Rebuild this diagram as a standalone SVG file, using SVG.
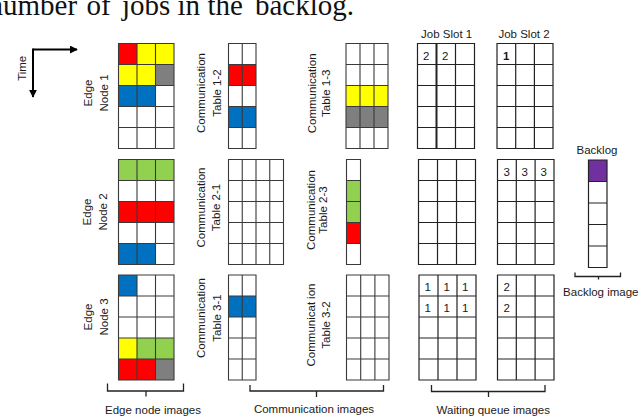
<svg xmlns="http://www.w3.org/2000/svg" width="640" height="417" viewBox="0 0 640 417">
<style>
.lbl{font-family:"Liberation Sans",Arial,sans-serif;font-size:11.5px;fill:#1a1a1a}
.mid{text-anchor:middle}
.num{font-family:"Liberation Sans",Arial,sans-serif;font-size:11.5px;fill:#1a1a1a}
.grid{fill:none;stroke:#3a3a3a;stroke-width:1.1}
.qgrid{fill:none;stroke:#222;stroke-width:1.2}
.line{fill:none;stroke:#222;stroke-width:1.3}
.red{fill:#FF0000}.yel{fill:#FFFF00}.gry{fill:#7F7F7F}.blu{fill:#0070C0}.grn{fill:#92D050}.pur{fill:#7030A0}
</style>
<defs>
<marker id="ah" viewBox="0 0 10 10" refX="9" refY="5" markerWidth="4" markerHeight="4" orient="auto" markerUnits="strokeWidth">
<path d="M0 0L10 5L0 10Z" fill="#000"/>
</marker>
</defs>
<rect width="640" height="417" fill="#fff"/>
<text y="15" font-family="Liberation Serif,'Times New Roman',serif" font-size="29" fill="#111"><tspan x="-11.5">number</tspan> <tspan x="86.5">of</tspan> <tspan x="122">jobs</tspan> <tspan x="177.5">in</tspan> <tspan x="207.5">the</tspan> <tspan x="255">backlog.</tspan></text>

<g id="connectors">
<path d="M33 49.5H77" stroke="#000" stroke-width="2" fill="none" marker-end="url(#ah)"/>
<path d="M33 48.5V97" stroke="#000" stroke-width="2" fill="none" marker-end="url(#ah)"/>
<path class="line" d="M107.5 383.5V391H183.5V383.5M146 391V396.5"/>
<path class="line" d="M250 385V391H383.5V385M316.5 391V397"/>
<path class="line" d="M431.5 385V391.5H545V385M488.5 391.5V397"/>
<path class="line" d="M575 272.5V276.5H620.5V272.5M598.5 276.5V279.5"/>
</g>
<g id="time-label"><text class="lbl mid" transform="translate(25.5 68.3) rotate(-90)">Time</text></g>

<g id="edge-node-1">
<rect class="red" x="118.5" y="43.5" width="18.5" height="21"/>
<rect class="yel" x="137" y="43.5" width="37" height="21"/>
<rect class="yel" x="118.5" y="64.5" width="37" height="21"/>
<rect class="gry" x="155.5" y="64.5" width="18.5" height="21"/>
<rect class="blu" x="118.5" y="85.5" width="37" height="21"/>
<path class="grid" d="M118.5 43.5H174V148.5H118.5ZM137 43.5V148.5M155.5 43.5V148.5M118.5 64.5H174M118.5 85.5H174M118.5 106.5H174M118.5 127.5H174"/>
<text class="lbl mid" transform="translate(92 93) rotate(-90)">Edge</text>
<text class="lbl mid" transform="translate(108 93) rotate(-90)">Node 1</text>
</g>
<g id="edge-node-2">
<rect class="grn" x="118.5" y="159.5" width="55.5" height="21"/>
<rect class="red" x="118.5" y="201.5" width="55.5" height="21"/>
<rect class="blu" x="118.5" y="243.5" width="37" height="21"/>
<path class="grid" d="M118.5 159.5H174V264.5H118.5ZM137 159.5V264.5M155.5 159.5V264.5M118.5 180.5H174M118.5 201.5H174M118.5 222.5H174M118.5 243.5H174"/>
<text class="lbl mid" transform="translate(91 212) rotate(-90)">Edge</text>
<text class="lbl mid" transform="translate(107 212) rotate(-90)">Node 2</text>
</g>
<g id="edge-node-3">
<rect class="blu" x="118.5" y="275" width="18.5" height="21"/>
<rect class="yel" x="118.5" y="338" width="18.5" height="21"/>
<rect class="grn" x="137" y="338" width="37" height="21"/>
<rect class="red" x="118.5" y="359" width="37" height="21"/>
<rect class="gry" x="155.5" y="359" width="18.5" height="21"/>
<path class="grid" d="M118.5 275H174V380H118.5ZM137 275V380M155.5 275V380M118.5 296H174M118.5 317H174M118.5 338H174M118.5 359H174"/>
<text class="lbl mid" transform="translate(92 317) rotate(-90)">Edge</text>
<text class="lbl mid" transform="translate(108 317) rotate(-90)">Node 3</text>
</g>

<g id="comm-table-1-2">
<rect class="red" x="228.5" y="64.5" width="27.5" height="21"/>
<rect class="blu" x="228.5" y="106.5" width="27.5" height="21"/>
<path class="grid" d="M228.5 43.5H256V148.5H228.5ZM242.25 43.5V148.5M228.5 64.5H256M228.5 85.5H256M228.5 106.5H256M228.5 127.5H256"/>
<text class="lbl mid" transform="translate(205 93) rotate(-90)">Communication</text>
<text class="lbl mid" transform="translate(221 93) rotate(-90)">Table 1-2</text>
</g>
<g id="comm-table-1-3">
<rect class="yel" x="346" y="85.5" width="42" height="21"/>
<rect class="gry" x="346" y="106.5" width="42" height="21"/>
<path class="grid" d="M346 43.5H388V148.5H346ZM360 43.5V148.5M374 43.5V148.5M346 64.5H388M346 85.5H388M346 106.5H388M346 127.5H388"/>
<text class="lbl mid" transform="translate(315.5 93.3) rotate(-90)">Communication</text>
<text class="lbl mid" transform="translate(330 93.3) rotate(-90)">Table 1-3</text>
</g>
<g id="comm-table-2-1">
<path class="grid" d="M228.5 159.5H283.5V264.5H228.5ZM242.25 159.5V264.5M256 159.5V264.5M269.75 159.5V264.5M228.5 180.5H283.5M228.5 201.5H283.5M228.5 222.5H283.5M228.5 243.5H283.5"/>
<text class="lbl mid" transform="translate(204.5 207.5) rotate(-90)">Communication</text>
<text class="lbl mid" transform="translate(219.5 207.5) rotate(-90)">Table 2-1</text>
</g>
<g id="comm-table-2-3">
<rect class="grn" x="346.5" y="180.5" width="14" height="42"/>
<rect class="red" x="346.5" y="222.5" width="14" height="21"/>
<path class="grid" d="M346.5 159.5H360.5V264.5H346.5ZM346.5 180.5H360.5M346.5 201.5H360.5M346.5 222.5H360.5M346.5 243.5H360.5"/>
<text class="lbl mid" transform="translate(314.5 210) rotate(-90)">Communication</text>
<text class="lbl mid" transform="translate(327 210) rotate(-90)">Table 2-3</text>
</g>
<g id="comm-table-3-1">
<rect class="blu" x="228.5" y="296" width="27.5" height="21"/>
<path class="grid" d="M228.5 275H256V380H228.5ZM242.25 275V380M228.5 296H256M228.5 317H256M228.5 338H256M228.5 359H256"/>
<text class="lbl mid" transform="translate(205 318) rotate(-90)">Communication</text>
<text class="lbl mid" transform="translate(221 318) rotate(-90)">Table 3-1</text>
</g>
<g id="comm-table-3-2">
<path class="grid" d="M346.5 275H389V380H346.5ZM360.7 275V380M374.9 275V380M346.5 296H389M346.5 317H389M346.5 338H389M346.5 359H389"/>
<text class="lbl mid" transform="translate(314.5 325) rotate(-90)"><tspan>Communicat</tspan><tspan dx="3">ion</tspan></text>
<text class="lbl mid" transform="translate(329.5 325) rotate(-90)">Table 3-2</text>
</g>

<g id="job-slot-1-top">
<text class="lbl mid" x="446.7" y="38">Job Slot 1</text>
<path class="qgrid" d="M417.5 43.5H474.5V148.5H417.5ZM455.5 43.5V148.5M417.5 64.5H474.5M417.5 85.5H474.5M417.5 106.5H474.5M417.5 127.5H474.5"/>
<path d="M436.5 43.5V148.5" stroke="#222" stroke-width="2"/>
<text class="num" x="423" y="59.5">2</text>
<text class="num" x="442" y="59.5">2</text>
</g>
<g id="job-slot-2-top">
<text class="lbl mid" x="524" y="38">Job Slot 2</text>
<path class="qgrid" d="M497 43.5H553V148.5H497ZM515.7 43.5V148.5M534.4 43.5V148.5M497 64.5H553M497 85.5H553M497 106.5H553M497 127.5H553"/>
<text class="num" x="503" y="59.5" font-weight="bold">1</text>
</g>
<g id="job-slot-1-mid">
<path class="qgrid" d="M418.5 159.5H475.5V264.5H418.5ZM437.5 159.5V264.5M456.5 159.5V264.5M418.5 180.5H475.5M418.5 201.5H475.5M418.5 222.5H475.5M418.5 243.5H475.5"/>
</g>
<g id="job-slot-2-mid">
<path class="qgrid" d="M497.5 159.5H554V264.5H497.5ZM516.3 159.5V264.5M535.1 159.5V264.5M497.5 180.5H554M497.5 201.5H554M497.5 222.5H554M497.5 243.5H554"/>
<text class="num" x="503.5" y="176">3</text>
<text class="num" x="521.5" y="176">3</text>
<text class="num" x="540.5" y="176">3</text>
</g>
<g id="job-slot-1-bot">
<path class="qgrid" d="M419 275H476V380H419ZM438 275V380M457 275V380M419 296H476M419 317H476M419 338H476M419 359H476"/>
<text class="num" x="424.5" y="291">1</text>
<text class="num" x="443.5" y="291">1</text>
<text class="num" x="462" y="291">1</text>
<text class="num" x="424.5" y="312">1</text>
<text class="num" x="443.5" y="312">1</text>
<text class="num" x="462" y="312">1</text>
</g>
<g id="job-slot-2-bot">
<path class="qgrid" d="M497.5 275H554V380H497.5ZM516.3 275V380M535.1 275V380M497.5 296H554M497.5 317H554M497.5 338H554M497.5 359H554"/>
<text class="num" x="503.5" y="291">2</text>
<text class="num" x="503.5" y="312">2</text>
</g>
<g id="backlog">
<text class="lbl mid" x="597" y="153.5">Backlog</text>
<rect class="pur" x="588.5" y="160" width="18.5" height="21.5"/>
<path class="qgrid" d="M588.5 160H607V267.5H588.5ZM588.5 181.5H607M588.5 203H607M588.5 224.5H607M588.5 246H607"/>
</g>

<g id="captions">
<text class="lbl mid" x="153" y="414">Edge node images</text>
<text class="lbl mid" x="314" y="413">Communication images</text>
<text class="lbl mid" x="493.3" y="414">Waiting queue images</text>
<text class="lbl mid" x="600.8" y="296">Backlog image</text>
</g>
</svg>
